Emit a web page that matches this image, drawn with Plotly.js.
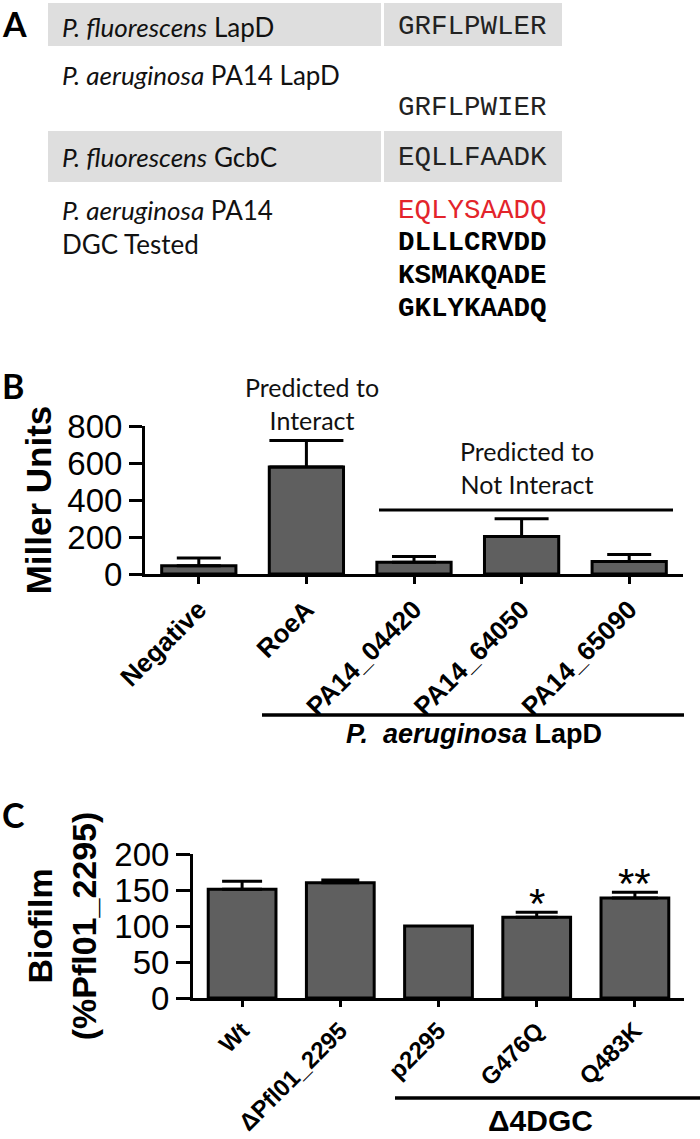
<!DOCTYPE html>
<html>
<head>
<meta charset="utf-8">
<script src="https://cdn.plot.ly/plotly-3.0.1.min.js"></script>
<style>
  html, body { margin: 0; padding: 0; background: #ffffff; }
  #chart { width: 700px; height: 1139px; }
</style>
</head>
<body>
<div id="chart"></div>
<script>
// ---------- Panel A: sequence table ----------
const organismLabels = [
  "<i>P. fluorescens</i> LapD",
  "<i>P. aeruginosa</i> PA14 LapD",
  "<i>P. fluorescens</i> GcbC",
  "<i>P. aeruginosa</i> PA14<br>DGC Tested"
];
const sequences = ["GRFLPWLER", "GRFLPWIER", "EQLLFAADK", "EQLYSAADQ", "DLLLCRVDD", "KSMAKQADE", "GKLYKAADQ"];

// ---------- Panel B: bacterial two-hybrid ----------
const categoriesB = ["Negative", "RoeA", "PA14_04420", "PA14_64050", "PA14_65090"];
const millerUnits = [45, 579, 63, 203, 68];
const millerSEM = [41, 142, 32, 96, 38];
const tickValsB = [0, 200, 400, 600, 800];

// ---------- Panel C: biofilm ----------
const categoriesC = ["Wt", "ΔPfl01_2295", "p2295", "G476Q", "Q483K"];
const biofilmPct = [151, 160, 100, 112, 139];
const biofilmSEM = [11, 4, null, 7, 8];
const significance = ["", "", "", "*", "**"];
const tickValsC = [0, 50, 100, 150, 200];

// ---------- styling (not data) ----------
const W = 700, H = 1139;
const px = x => x / W;
const py = y => 1 - y / H;
const BAR_FILL = "#5f5f5f";
const SANS = "Liberation Sans, Arial, sans-serif";
const CALIBRI = "Lato, Carlito, Calibri, sans-serif";
const MONO = "Liberation Mono, Courier New, monospace";
const capHalfB = [22, 37, 22, 27, 22];
const capHalfC = [20, 19, 20, 21, 23];

const traces = [];
categoriesB.forEach((c, i) => {
  traces.push({
    type: "bar", x: [c], y: [millerUnits[i]], xaxis: "x", yaxis: "y",
    width: 0.69,
    marker: { color: BAR_FILL, line: { color: "#000", width: 3 } },
    error_y: { type: "data", symmetric: false, array: [millerSEM[i]], arrayminus: [0],
               color: "#000", thickness: 3, width: capHalfB[i], visible: true },
    showlegend: false, hoverinfo: "x+y"
  });
});
categoriesC.forEach((c, i) => {
  const hasErr = biofilmSEM[i] !== null;
  traces.push({
    type: "bar", x: [c], y: [biofilmPct[i]], xaxis: "x2", yaxis: "y2",
    width: 0.69,
    marker: { color: BAR_FILL, line: { color: "#000", width: 3 } },
    error_y: { type: "data", symmetric: false, array: [hasErr ? biofilmSEM[i] : 0], arrayminus: [0],
               color: "#000", thickness: 3, width: capHalfC[i], visible: hasErr },
    showlegend: false, hoverinfo: "x+y"
  });
});

const shapes = [];
const annotations = [];

// Panel letters
[["A", 23], ["B", 385], ["C", 814]].forEach(([t, y]) => {
  annotations.push({ xref: "paper", yref: "paper", x: 0, y: py(y), xanchor: "left", yanchor: "middle",
    text: t, showarrow: false, font: { family: CALIBRI, size: 34, weight: "bold", color: "#000" } });
});

// Panel A grey rows
[[3, 46], [131, 182]].forEach(([y0, y1]) => {
  shapes.push({ type: "rect", xref: "paper", yref: "paper", x0: px(48), x1: px(381), y0: py(y1), y1: py(y0),
    fillcolor: "#dedede", line: { width: 0 }, layer: "below" });
  shapes.push({ type: "rect", xref: "paper", yref: "paper", x0: px(384), x1: px(562), y0: py(y1), y1: py(y0),
    fillcolor: "#dedede", line: { width: 0 }, layer: "below" });
});
const orgY = [27, 75, 157, 227];
organismLabels.forEach((t, i) => {
  annotations.push({ xref: "paper", yref: "paper", x: px(60), y: py(orgY[i]), xanchor: "left", yanchor: "middle",
    align: "left", text: t, showarrow: false, font: { family: CALIBRI, size: 26, color: "#111" } });
});
const seqY = [27, 108, 157, 210, 242, 275, 308];
const seqColor = ["#222", "#222", "#222", "#e3242b", "#000", "#000", "#000"];
const seqBold = [false, false, false, false, true, true, true];
sequences.forEach((s, i) => {
  annotations.push({ xref: "paper", yref: "paper", x: px(396), y: py(seqY[i]), xanchor: "left", yanchor: "middle",
    text: s, showarrow: false,
    font: { family: MONO, size: 27.5, color: seqColor[i], weight: seqBold[i] ? "bold" : "normal" } });
});

// Panel B annotations
annotations.push({ xref: "paper", yref: "paper", x: px(312), y: py(403), xanchor: "center", yanchor: "middle",
  text: "Predicted to<br>Interact", showarrow: false, font: { family: CALIBRI, size: 25, color: "#111" } });
annotations.push({ xref: "paper", yref: "paper", x: px(527), y: py(468), xanchor: "center", yanchor: "middle",
  text: "Predicted to<br>Not Interact", showarrow: false, font: { family: CALIBRI, size: 25, color: "#111" } });
shapes.push({ type: "line", xref: "paper", yref: "paper", x0: px(379), x1: px(673), y0: py(510), y1: py(510),
  line: { color: "#000", width: 3 } });
shapes.push({ type: "line", xref: "paper", yref: "paper", x0: px(262), x1: px(684), y0: py(715), y1: py(715),
  line: { color: "#000", width: 3.5 } });
annotations.push({ xref: "paper", yref: "paper", x: px(474), y: py(734), xanchor: "center", yanchor: "middle",
  text: "<i>P.  aeruginosa</i> LapD", showarrow: false, font: { family: SANS, size: 27, weight: "bold", color: "#000" } });

// Panel C annotations
significance.forEach((s, i) => {
  if (!s) return;
  annotations.push({ xref: "x2", yref: "y2", x: categoriesC[i], y: biofilmPct[i] + biofilmSEM[i],
    xanchor: "center", yanchor: "bottom", yshift: -17, text: s, showarrow: false,
    font: { family: SANS, size: 42, color: "#000" } });
});
shapes.push({ type: "line", xref: "paper", yref: "paper", x0: px(395), x1: px(700), y0: py(1098), y1: py(1098),
  line: { color: "#000", width: 3.5 } });
annotations.push({ xref: "paper", yref: "paper", x: px(540), y: 0, xanchor: "center", yanchor: "bottom",
  text: "Δ4DGC", showarrow: false, font: { family: SANS, size: 30, weight: "bold", color: "#000" } });

const axisCommon = {
  showline: true, linecolor: "#000", linewidth: 3, ticks: "outside", tickcolor: "#000", tickwidth: 3,
  showgrid: false, zeroline: false, fixedrange: true
};

const layout = {
  width: W, height: H,
  margin: { l: 0, r: 0, t: 0, b: 0 },
  paper_bgcolor: "#fff", plot_bgcolor: "rgba(0,0,0,0)",
  barmode: "overlay",
  font: { family: SANS, color: "#000" },
  xaxis: Object.assign({}, axisCommon, {
    domain: [px(145), px(683)], anchor: "y", type: "category",
    categoryorder: "array", categoryarray: categoriesB, range: [-0.5, 4.5],
    ticklen: 7, tickangle: -45, tickfont: { family: SANS, size: 26, weight: "bold" }
  }),
  yaxis: Object.assign({}, axisCommon, {
    domain: [py(574), py(426)], anchor: "x", range: [0, 800], tickvals: tickValsB,
    ticklen: 13, tickfont: { family: SANS, size: 33 },
    title: { text: "Miller Units", font: { family: SANS, size: 35, weight: "bold" }, standoff: 6 }
  }),
  xaxis2: Object.assign({}, axisCommon, {
    domain: [px(193), px(684)], anchor: "y2", type: "category",
    categoryorder: "array", categoryarray: categoriesC, range: [-0.5, 4.5],
    ticklen: 6, tickangle: -45, tickfont: { family: SANS, size: 24, weight: "bold" }
  }),
  yaxis2: Object.assign({}, axisCommon, {
    domain: [py(998), py(854)], anchor: "x2", range: [0, 200], tickvals: tickValsC,
    ticklen: 14, tickfont: { family: SANS, size: 33 },
    title: { text: "Biofilm<br>(%Pfl01_2295)", font: { family: SANS, size: 34, weight: "bold" }, standoff: 8 }
  }),
  shapes: shapes,
  annotations: annotations
};

Plotly.newPlot("chart", traces, layout, { displayModeBar: false, staticPlot: true });
</script>
</body>
</html>
